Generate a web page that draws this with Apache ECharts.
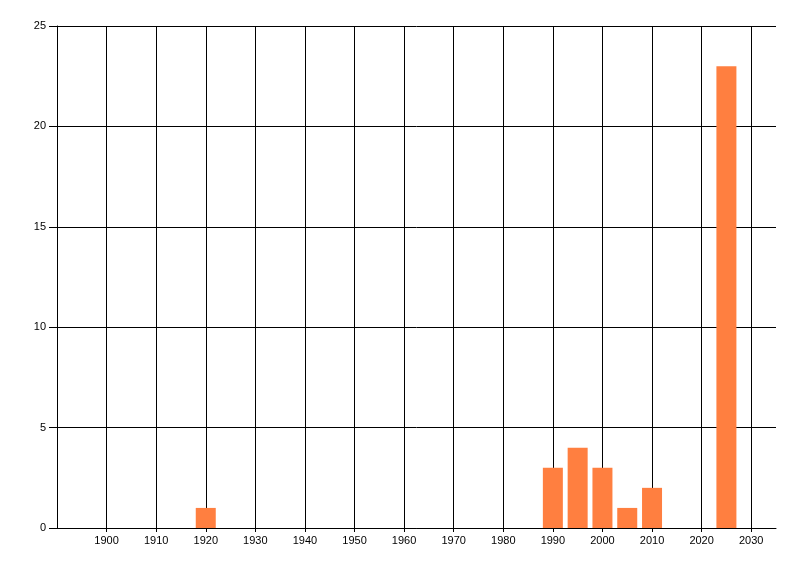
<!DOCTYPE html>
<html>
<head>
<meta charset="utf-8">
<script src="https://cdn.jsdelivr.net/npm/echarts@6/dist/echarts.min.js"></script>
<style>html,body{margin:0;padding:0;background:#fff}#c{width:800px;height:576px}</style>
</head>
<body>
<div id="c"></div>
<script>
const years = [1920, 1990, 1995, 2000, 2005, 2010, 2025];
const counts = [1, 3, 4, 3, 1, 2, 23];
const xTicks = [1900, 1910, 1920, 1930, 1940, 1950, 1960, 1970, 1980, 1990, 2000, 2010, 2020, 2030];

const chart = echarts.init(document.getElementById('c'), null, {renderer: 'canvas'});
const font = {fontFamily: 'Liberation Sans', fontSize: 11, color: '#000'};
chart.setOption({
  animation: false,
  backgroundColor: '#fff',
  grid: {left: 57, right: 24, top: 26, bottom: 48, containLabel: false},
  xAxis: {
    type: 'value', min: 1890, max: 2035, interval: 10,
    axisLine: {show: true, lineStyle: {color: '#000', width: 1}},
    axisTick: {show: true, length: 4, customValues: xTicks, lineStyle: {color: '#000'}},
    axisLabel: Object.assign({customValues: xTicks, margin: 7, formatter: v => String(v)}, font),
    splitLine: {show: true, lineStyle: {color: '#000', width: 1}}
  },
  yAxis: {
    type: 'value', min: 0, max: 25, interval: 5,
    axisLine: {show: true, lineStyle: {color: '#000', width: 1}},
    axisTick: {show: true, length: 8, lineStyle: {color: '#000'}},
    axisLabel: Object.assign({margin: 11}, font),
    splitLine: {show: true, lineStyle: {color: '#000', width: 1}}
  },
  series: [{
    type: 'bar',
    data: years.map((y, i) => [y, counts[i]]),
    barWidth: 20,
    itemStyle: {color: '#ff7f40'}
  }]
});
</script>
</body>
</html>
